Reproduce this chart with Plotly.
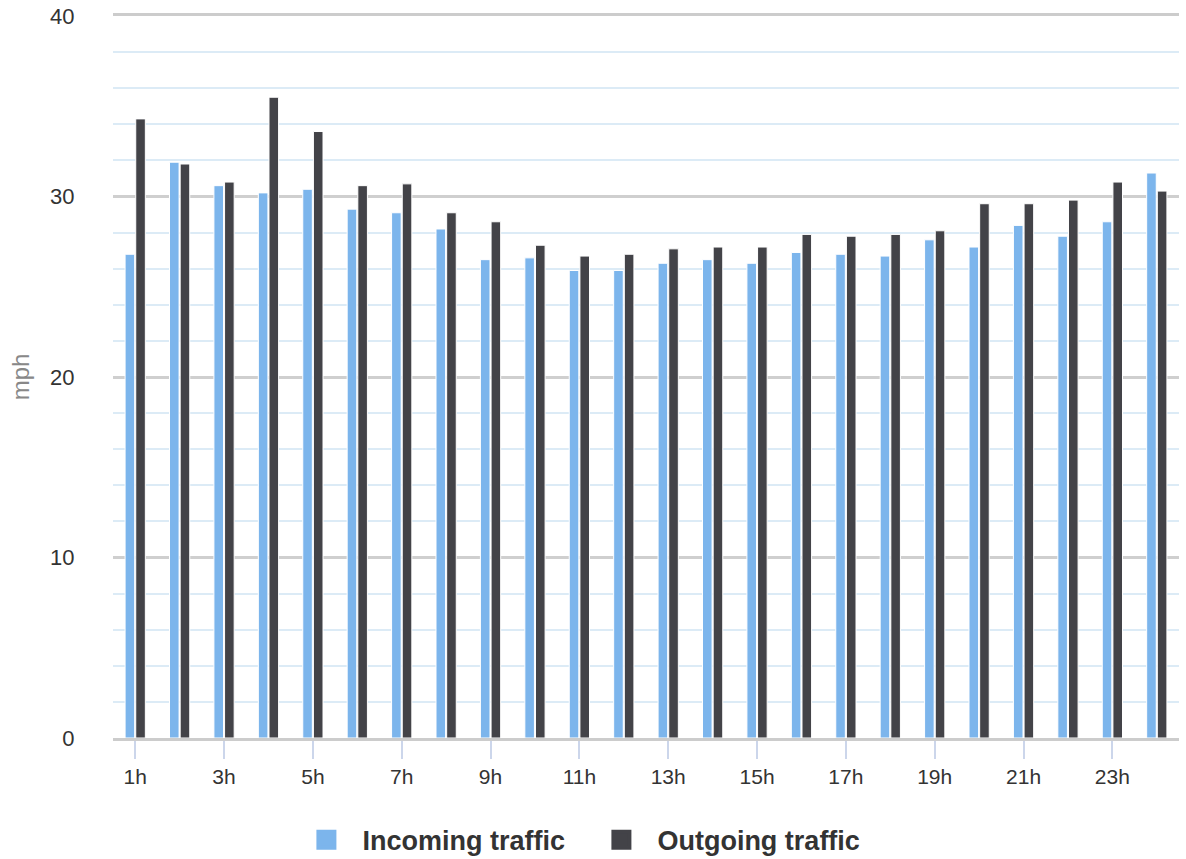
import plotly.graph_objects as go

hours = [f"{h}h" for h in range(1, 25)]
tick_labels = [f"{h}h" for h in range(1, 25, 2)]
incoming = [26.8, 31.9, 30.6, 30.2, 30.4, 29.3, 29.1, 28.2, 26.5, 26.6, 25.9, 25.9,
            26.3, 26.5, 26.3, 26.9, 26.8, 26.7, 27.6, 27.2, 28.4, 27.8, 28.6, 31.3]
outgoing = [34.3, 31.8, 30.8, 35.5, 33.6, 30.6, 30.7, 29.1, 28.6, 27.3, 26.7, 26.8,
            27.1, 27.2, 27.2, 27.9, 27.8, 27.9, 28.1, 29.6, 29.6, 29.8, 30.8, 30.3]
series_names = ["Incoming traffic", "Outgoing traffic"]
colors = ["#7cb5ec", "#434348"]

fig = go.Figure()
for name, vals, col in zip(series_names, [incoming, outgoing], colors):
    fig.add_trace(go.Bar(x=hours, y=vals, name=name, marker=dict(color=col, line=dict(color="white", width=1)),
                         showlegend=False))
for name, col in zip(series_names, colors):
    fig.add_trace(go.Scatter(x=[None], y=[None], mode="markers", name=name,
                             marker=dict(symbol="square", size=16, color=col, line=dict(color=col, width=4))))

font_family = "Liberation Sans, Arial, sans-serif"
fig.update_layout(
    width=1186, height=859,
    margin=dict(l=113, r=7, t=16, b=121, autoexpand=False),
    paper_bgcolor="white", plot_bgcolor="white",
    barmode="group", bargap=0.52, bargroupgap=0.1,
    font=dict(family=font_family, color="#333333"),
    legend=dict(orientation="h", xref="container", yref="container", x=0.4936, xanchor="center",
                y=0.022, yanchor="middle", font=dict(size=27, color="#333333", family=font_family, weight="bold"),
                entrywidth=218, itemwidth=62),
)
fig.update_xaxes(
    type="category", tickmode="array", tickvals=tick_labels, ticktext=tick_labels,
    ticks="outside", ticklen=18, tickcolor="#ccd6eb", tickwidth=1.5,
    tickfont=dict(size=21, color="#333333"),
    showgrid=False, showline=True, mirror=True, linecolor="#cccccc", linewidth=2.5,
)
fig.update_yaxes(
    range=[0, 40], tickvals=[0, 10, 20, 30, 40], showgrid=True, gridcolor="#cfcfcf", gridwidth=2.5,
    zeroline=False, showline=False,
    ticks="outside", ticklen=33, tickcolor="rgba(0,0,0,0)",
    tickfont=dict(size=22, color="#333333"),
    minor=dict(dtick=2, showgrid=True, gridcolor="#dcebf6", gridwidth=1.5),
    title=dict(text="mph", font=dict(size=24, color="#888888"), standoff=13),
)

fig.write_html("out.html", config={"displayModeBar": False},
               post_script="document.body.style.margin='0';document.body.style.overflow='hidden';")
